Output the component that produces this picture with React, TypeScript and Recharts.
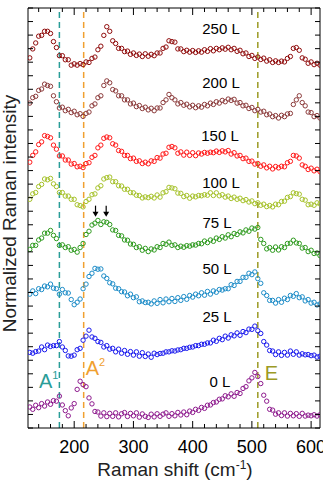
import { ScatterChart, Scatter, XAxis, YAxis, ReferenceLine, ReferenceDot } from "recharts";

// Raman shift grid (cm-1)
const shifts = [
  125, 130, 135, 140, 145, 150, 155, 160, 165, 170, 175, 180, 185, 190, 195, 200, 205, 210, 215, 220,
  225, 230, 235, 240, 245, 250, 255, 260, 265, 270, 275, 280, 285, 290, 295, 300, 305, 310, 315, 320,
  325, 330, 335, 340, 345, 350, 355, 360, 365, 370, 375, 380, 385, 390, 395, 400, 405, 410, 415, 420,
  425, 430, 435, 440, 445, 450, 455, 460, 465, 470, 475, 480, 485, 490, 495, 500, 505, 510, 515, 520,
  525, 530, 535, 540, 545, 550, 555, 560, 565, 570, 575, 580, 585, 590, 595, 600, 605, 610, 615,
];

// stacked, offset spectra (normalized intensity + offset)
const s0L = [
  1.55, 1.38, 1.68, 1.5, 1.8, 1.62, 1.92, 1.75, 2.02, 1.98, 2.35, 1.7, 1.28, 0.9, 1.48, 1.8, 2.85, 3.45, 3.2, 3.05,
  2.22, 1.78, 1.22, 1.18, 0.88, 1.12, 0.84, 1.08, 0.86, 1.12, 0.82, 1.05, 1.14, 0.85, 1.08, 0.9, 1.12, 0.8, 1.04, 0.86,
  0.78, 1.02, 0.82, 1.05, 0.86, 1.02, 1.12, 0.86, 1.06, 0.9, 1.15, 0.96, 1.18, 0.98, 1.25, 1.15, 1.38, 1.3, 1.52, 1.45,
  1.68, 1.7, 1.88, 1.92, 2.12, 2.15, 2.38, 2.3, 2.52, 2.34, 2.62, 2.55, 2.92, 3.05, 3.48, 3.7, 4.1, 3.8, 3.28, 2.42,
  1.98, 1.38, 1.32, 1.02, 1.12, 0.92, 1.12, 0.88, 1.08, 0.9, 1.06, 0.86, 1.08, 0.88, 0.95, 0.9, 0.98, 0.88, 0.98,
];
const s25L = [
  5.58, 5.52, 5.64, 5.68, 5.98, 5.78, 6.12, 6.02, 6.08, 6.08, 6.38, 5.98, 5.72, 5.32, 5.3, 5.38, 5.78, 5.88, 6.48, 6.78,
  7.22, 6.72, 6.62, 6.38, 6.32, 5.98, 6.08, 5.82, 5.88, 5.62, 5.82, 5.52, 5.72, 5.44, 5.64, 5.38, 5.62, 5.3, 5.56, 5.28,
  5.46, 5.22, 5.52, 5.42, 5.5, 5.52, 5.62, 5.62, 5.7, 5.68, 5.76, 5.78, 5.88, 5.88, 5.96, 5.98, 6.08, 6.08, 6.18, 6.18,
  6.28, 6.28, 6.48, 6.4, 6.62, 6.52, 6.78, 6.64, 6.88, 6.8, 7.02, 6.84, 7.12, 7.04, 7.3, 7.28, 7.52, 7.18, 6.98, 6.38,
  6.12, 5.72, 5.68, 5.42, 5.62, 5.36, 5.58, 5.38, 5.68, 5.44, 5.62, 5.38, 5.48, 5.4, 5.42, 5.34, 5.38, 5.24, 5.3,
];
const s50L = [
  9.88, 10.12, 9.92, 10.28, 10.22, 10.48, 10.42, 10.62, 10.32, 10.28, 9.88, 10.22, 9.98, 9.96, 9.48, 9.1, 9.28, 9.52, 10.28, 10.62,
  11.18, 11.42, 11.78, 11.72, 11.74, 11.22, 11.04, 10.72, 10.64, 10.32, 10.28, 10.06, 10.04, 9.76, 9.88, 9.62, 9.68, 9.32, 9.38, 9.26,
  9.28, 9.16, 9.38, 9.2, 9.48, 9.24, 9.52, 9.32, 9.56, 9.34, 9.62, 9.42, 9.7, 9.5, 9.78, 9.66, 9.88, 9.76, 9.98, 9.8,
  10.08, 9.88, 10.12, 10.02, 10.22, 10.18, 10.28, 10.28, 10.58, 10.52, 10.82, 10.82, 11.12, 11.12, 11.42, 11.32, 11.52, 11.02, 10.68, 9.98,
  9.78, 9.42, 9.42, 9.22, 9.48, 9.28, 9.58, 9.48, 9.78, 9.72, 9.92, 9.62, 9.68, 9.38, 9.48, 9.22, 9.28, 9.08, 9.16,
];
const s75L = [
  13.18, 13.48, 13.48, 13.88, 14.02, 14.38, 14.38, 14.58, 14.22, 13.98, 13.48, 13.52, 13.32, 13.38, 13.12, 13.18, 12.98, 13.32, 13.62, 14.28,
  14.52, 14.98, 15.12, 15.32, 15.02, 15.22, 15.18, 15.02, 14.62, 14.58, 14.22, 14.18, 13.88, 13.86, 13.58, 13.56, 13.32, 13.38, 13.12, 13.26,
  13.02, 13.22, 13.14, 13.38, 13.32, 13.62, 13.56, 13.72, 13.48, 13.52, 13.32, 13.42, 13.34, 13.46, 13.42, 13.52, 13.5, 13.62, 13.6, 13.8,
  13.68, 13.88, 13.78, 14.02, 13.92, 14.12, 14.02, 14.26, 14.12, 14.36, 14.28, 14.48, 14.4, 14.62, 14.52, 14.76, 14.68, 14.8, 13.92, 13.62,
  13.22, 13.32, 13.12, 13.36, 13.14, 13.38, 13.32, 13.62, 13.64, 13.86, 13.66, 13.62, 13.28, 13.32, 13.02, 13.12, 12.88, 12.92, 12.72,
];
const s100L = [
  16.88, 17.28, 17.38, 17.82, 17.98, 18.38, 18.32, 18.42, 18.02, 17.82, 17.38, 17.38, 17.12, 17.12, 16.88, 16.88, 16.48, 16.42, 16.32, 16.72,
  16.88, 17.22, 17.28, 17.72, 17.88, 18.38, 18.48, 18.52, 18.18, 18.18, 17.88, 17.86, 17.62, 17.62, 17.38, 17.36, 17.18, 17.16, 16.98, 17.06,
  17.0, 17.1, 16.98, 17.2, 17.04, 17.36, 17.44, 17.76, 17.72, 17.66, 17.34, 17.32, 17.08, 17.16, 16.96, 17.12, 17.06, 17.16, 17.14, 17.22,
  17.18, 17.36, 17.16, 17.36, 17.14, 17.22, 17.04, 17.12, 16.94, 17.04, 16.88, 16.96, 16.78, 16.86, 16.68, 16.76, 16.56, 16.62, 16.44, 16.52,
  16.34, 16.42, 16.32, 16.52, 16.48, 16.72, 16.74, 17.02, 17.08, 17.36, 17.3, 17.26, 16.88, 16.82, 16.48, 16.52, 16.44, 16.62, 16.54,
];
const s150L = [
  19.62, 20.12, 20.38, 20.92, 21.12, 21.58, 21.52, 21.42, 20.88, 20.58, 20.08, 20.08, 19.78, 19.78, 19.48, 19.52, 19.28, 19.32, 19.22, 19.52,
  19.58, 19.98, 20.12, 20.68, 20.88, 21.38, 21.48, 21.42, 20.98, 20.88, 20.48, 20.42, 20.12, 20.12, 19.88, 19.92, 19.68, 19.72, 19.52, 19.62,
  19.5, 19.72, 19.68, 19.96, 19.92, 20.22, 20.28, 20.72, 20.78, 20.68, 20.28, 20.38, 20.14, 20.36, 20.12, 20.32, 20.1, 20.3, 20.22, 20.34,
  20.28, 20.36, 20.32, 20.44, 20.34, 20.46, 20.38, 20.48, 20.22, 20.32, 20.08, 20.12, 19.88, 19.92, 19.68, 19.7, 19.48, 19.52, 19.32, 19.42,
  19.2, 19.32, 19.12, 19.3, 19.2, 19.32, 19.28, 19.58, 19.68, 20.12, 20.08, 19.92, 19.42, 19.32, 19.08, 19.18, 18.98, 19.1, 18.92,
];
const s200L = [
  23.98, 24.38, 24.48, 24.92, 25.02, 25.38, 25.28, 25.22, 24.52, 24.08, 23.62, 23.68, 23.42, 23.52, 23.28, 23.38, 23.12, 23.2, 23.0, 23.22,
  23.32, 23.78, 23.92, 24.38, 24.52, 25.28, 25.62, 25.48, 24.98, 24.88, 24.52, 24.52, 24.22, 24.22, 23.92, 23.98, 23.72, 23.8, 23.58, 23.68,
  23.48, 23.6, 23.42, 23.62, 23.62, 24.02, 24.22, 24.62, 24.38, 24.22, 23.92, 24.02, 23.82, 23.9, 23.7, 23.82, 23.64, 23.78, 23.68, 23.88,
  23.78, 23.98, 23.88, 24.08, 23.98, 24.18, 24.08, 24.28, 24.18, 24.26, 23.98, 24.02, 23.78, 23.82, 23.58, 23.66, 23.42, 23.52, 23.32, 23.38,
  23.12, 23.18, 22.98, 23.06, 22.88, 23.08, 22.98, 23.18, 23.22, 23.88, 24.22, 24.52, 24.02, 23.78, 23.32, 23.28, 22.98, 23.06, 22.88,
];
const s250L = [
  27.32, 27.98, 28.42, 28.92, 28.98, 29.28, 29.28, 29.12, 28.52, 28.08, 27.48, 27.48, 27.18, 27.18, 26.78, 26.88, 26.78, 26.9, 26.82, 27.02,
  26.98, 27.28, 27.38, 27.92, 28.18, 28.98, 29.62, 29.28, 28.58, 28.38, 28.02, 28.02, 27.78, 27.82, 27.58, 27.68, 27.5, 27.6, 27.42, 27.62,
  27.44, 27.58, 27.48, 27.68, 27.68, 28.02, 28.12, 28.58, 28.52, 28.48, 27.98, 27.98, 27.78, 27.88, 27.74, 27.86, 27.72, 27.84, 27.74, 27.92,
  27.8, 28.0, 27.84, 28.02, 27.92, 28.06, 27.96, 28.1, 27.92, 28.02, 27.8, 27.88, 27.62, 27.68, 27.42, 27.5, 27.28, 27.38, 27.2, 27.3,
  27.08, 27.18, 26.98, 27.1, 26.98, 27.08, 27.02, 27.28, 27.42, 28.02, 28.08, 27.88, 27.32, 27.22, 26.92, 27.02, 26.82, 26.92, 26.78,
];

const spectra = [
  { name: "0 L", color: "#8E1A8E", values: s0L },
  { name: "25 L", color: "#1A1AEE", values: s25L },
  { name: "50 L", color: "#1C8CC8", values: s50L },
  { name: "75 L", color: "#2F9B1F", values: s75L },
  { name: "100 L", color: "#A6C22A", values: s100L },
  { name: "150 L", color: "#FF1A1A", values: s150L },
  { name: "200 L", color: "#8C3B3B", values: s200L },
  { name: "250 L", color: "#900C0C", values: s250L },
];

// phonon mode positions (cm-1)
const phonons = [
  { name: "A", sup: "1", shift: 175, color: "#2A9D98" },
  { name: "A", sup: "2", shift: 216, color: "#F0A030" },
  { name: "E", sup: "", shift: 510, color: "#9C9A25" },
];

// split peak markers on the 75 L trace
const arrowShifts = [236, 254];
const arrowLevel = 15.6;

const xDomain: [number, number] = [122, 615];
const yDomain: [number, number] = [0, 31];
const xTicks = [140, 160, 180, 200, 220, 240, 260, 280, 300, 320, 340, 360, 380, 400, 420, 440, 460, 480, 500, 520, 540, 560, 580, 600];
const yTicks = [0, 1, 2, 3, 4, 5, 6, 7, 8, 9, 10, 11, 12, 13, 14, 15, 16, 17, 18, 19, 20, 21, 22, 23, 24, 25, 26, 27, 28, 29, 30, 31];

const FONT = "'Liberation Sans', Arial, sans-serif";

// label layout (pixels)
const labelSpots: Record<string, [number, number]> = {
  "250 L": [221, 28.5],
  "200 L": [221, 82.5],
  "150 L": [220, 136],
  "100 L": [221, 182.5],
  "75 L": [217, 223],
  "50 L": [217, 269],
  "25 L": [217, 316.5],
  "0 L": [220, 382],
};
const phononLayout = [
  { dx: -1, anchor: "end", baseline: 388 },
  { dx: 2, anchor: "start", baseline: 375 },
  { dx: 7, anchor: "start", baseline: 380 },
];

const BottomTick = (props: any) => {
  const { x, y, payload } = props;
  const major = payload.value % 100 === 0;
  return (
    <g>
      <line x1={x} x2={x} y1={y} y2={y - (major ? 7 : 4)} stroke="#000" strokeWidth={1} />
      {major && (
        <text x={x} y={y + 24.5} textAnchor="middle" fontSize={18} fontFamily={FONT} fill="#000">
          {payload.value}
        </text>
      )}
    </g>
  );
};

const TopTick = (props: any) => {
  const { x, y, payload } = props;
  const major = payload.value % 100 === 0;
  return <line x1={x} x2={x} y1={y} y2={y + (major ? 7 : 4)} stroke="#000" strokeWidth={1} />;
};

const LeftTick = (props: any) => {
  const { x, y } = props;
  return <line x1={x} x2={x + 5} y1={y} y2={y} stroke="#000" strokeWidth={1} />;
};

const RightTick = (props: any) => {
  const { x, y } = props;
  return <line x1={x} x2={x - 5} y1={y} y2={y} stroke="#000" strokeWidth={1} />;
};

const openCircle = (color: string) => (props: any) =>
  <circle cx={props.cx} cy={props.cy} r={2.2} fill="none" stroke={color} strokeWidth={1} />;

const DownArrow = (props: any) => {
  const { cx, cy } = props;
  return (
    <g>
      <line x1={cx} x2={cx} y1={cy - 11} y2={cy - 4} stroke="#000" strokeWidth={1.2} />
      <polygon points={`${cx - 3},${cy - 5} ${cx + 3},${cy - 5} ${cx},${cy}`} fill="#000" />
    </g>
  );
};

const PhononTag = (props: any) => {
  const { viewBox, name, sup, color, dx, anchor, baseline } = props;
  return (
    <text x={viewBox.x + dx} y={baseline} textAnchor={anchor} fill={color} fontFamily={FONT} fontSize={20}>
      {name}
      {sup && (
        <tspan dy={-9} fontSize={11}>
          {sup}
        </tspan>
      )}
    </text>
  );
};

const axisLine = { stroke: "#000", strokeWidth: 1 };

export default function App() {
  return (
    <div style={{ position: "absolute", left: 0, top: 0, width: 323, height: 482 }}>
      <ScatterChart width={323} height={482} margin={{ top: 7, right: 2, bottom: 53, left: 27 }}>
        <XAxis
          xAxisId="bottom"
          orientation="bottom"
          type="number"
          dataKey="x"
          domain={xDomain}
          allowDataOverflow
          ticks={xTicks}
          interval={0}
          height={1}
          tickSize={0}
          tickMargin={0}
          tickLine={false}
          tick={<BottomTick />}
          axisLine={axisLine}
        />
        <XAxis
          xAxisId="top"
          orientation="top"
          type="number"
          dataKey="x"
          domain={xDomain}
          allowDataOverflow
          ticks={xTicks}
          interval={0}
          height={1}
          tickSize={0}
          tickMargin={0}
          tickLine={false}
          tick={<TopTick />}
          axisLine={axisLine}
        />
        <YAxis
          yAxisId="left"
          orientation="left"
          type="number"
          dataKey="y"
          domain={yDomain}
          allowDataOverflow
          ticks={yTicks}
          interval={0}
          width={1}
          tickSize={0}
          tickMargin={0}
          tickLine={false}
          tick={<LeftTick />}
          axisLine={axisLine}
        />
        <YAxis
          yAxisId="right"
          orientation="right"
          type="number"
          dataKey="y"
          domain={yDomain}
          allowDataOverflow
          ticks={yTicks}
          interval={0}
          width={1}
          tickSize={0}
          tickMargin={0}
          tickLine={false}
          tick={<RightTick />}
          axisLine={axisLine}
        />
        {phonons.map((p, i) => (
          <ReferenceLine
            key={`${p.name}${p.sup}`}
            xAxisId="bottom"
            yAxisId="left"
            x={p.shift}
            stroke={p.color}
            strokeWidth={1.5}
            strokeDasharray="6 4"
            label={<PhononTag name={p.name} sup={p.sup} color={p.color} {...phononLayout[i]} />}
          />
        ))}
        {spectra.map((s) => (
          <Scatter
            key={s.name}
            name={s.name}
            xAxisId="bottom"
            yAxisId="left"
            data={shifts.map((x, i) => ({ x, y: s.values[i] }))}
            shape={openCircle(s.color)}
            isAnimationActive={false}
          />
        ))}
        {arrowShifts.map((x) => (
          <ReferenceDot key={x} xAxisId="bottom" yAxisId="left" x={x} y={arrowLevel} shape={<DownArrow />} />
        ))}
      </ScatterChart>
      <svg
        width={323}
        height={482}
        style={{ position: "absolute", left: 0, top: 0, pointerEvents: "none" }}
        fontFamily={FONT}
      >
        {spectra.map((s) => {
          const [cx, cy] = labelSpots[s.name];
          return (
            <text key={s.name} x={cx} y={cy + 5.4} textAnchor="middle" fontSize={15} fill="#000">
              {s.name}
            </text>
          );
        })}
        <text x={175} y={476} textAnchor="middle" fontSize={19} fill="#222">
          Raman shift (cm
          <tspan dy={-7} fontSize={12}>
            -1
          </tspan>
          <tspan dy={7}>)</tspan>
        </text>
        <text transform="translate(16,213.5) rotate(-90)" textAnchor="middle" fontSize={19} fill="#222">
          Normalized Raman intensity
        </text>
      </svg>
    </div>
  );
}
